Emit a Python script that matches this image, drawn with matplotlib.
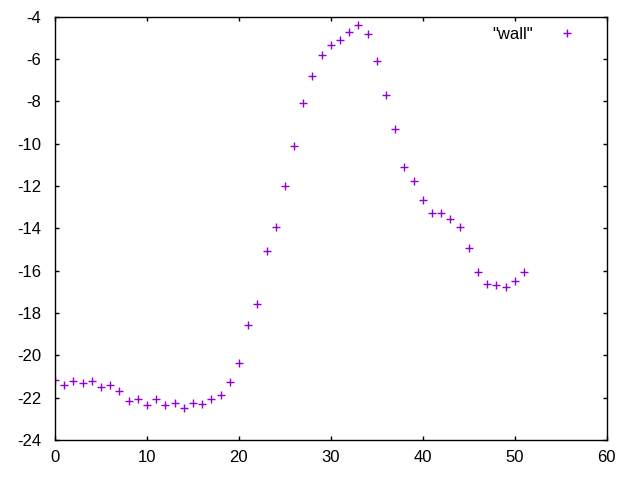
import matplotlib
matplotlib.use("Agg")
import matplotlib.pyplot as plt

plt.rcParams["font.family"] = ["Liberation Sans", "DejaVu Sans"]
plt.rcParams["axes.unicode_minus"] = False

x_values = list(range(52))
wall = [
    -21.15, -21.4, -21.2, -21.3, -21.2, -21.5, -21.4, -21.7, -22.15, -22.05,
    -22.35, -22.05, -22.35, -22.25, -22.5, -22.25, -22.3, -22.05, -21.85, -21.25,
    -20.35, -18.55, -17.55, -15.05, -13.95, -12.0, -10.1, -8.05, -6.8, -5.8,
    -5.35, -5.1, -4.7, -4.4, -4.8, -6.1, -7.7, -9.3, -11.1, -11.75,
    -12.65, -13.25, -13.25, -13.55, -13.95, -14.9, -16.05, -16.6, -16.65, -16.75,
    -16.5, -16.05,
]
purple = "#9400d3"

fig = plt.figure(figsize=(6.4, 4.8), dpi=100)
ax = fig.add_axes([0.086, 0.083, 0.862, 0.882])
ax.plot(x_values, wall, linestyle="none", marker="+", markersize=6,
        markeredgewidth=1.0, color=purple, label='"wall"')

ax.set_xlim(0, 60)
ax.set_ylim(-24, -4)
ax.set_xticks(range(0, 61, 10))
ax.set_yticks(range(-24, -3, 2))
ax.tick_params(direction="in", top=True, right=True, labelsize=12,
               length=3, width=1)
ax.tick_params(axis="y", pad=10)
ax.tick_params(axis="x", pad=7)
for spine in ax.spines.values():
    spine.set_linewidth(1)

ax.legend(loc="upper right", bbox_to_anchor=(0.962, 0.992), borderaxespad=0,
          frameon=False, markerfirst=False, handlelength=1.5,
          handletextpad=1.26, fontsize=12)

fig.savefig("out.png", dpi=100)
